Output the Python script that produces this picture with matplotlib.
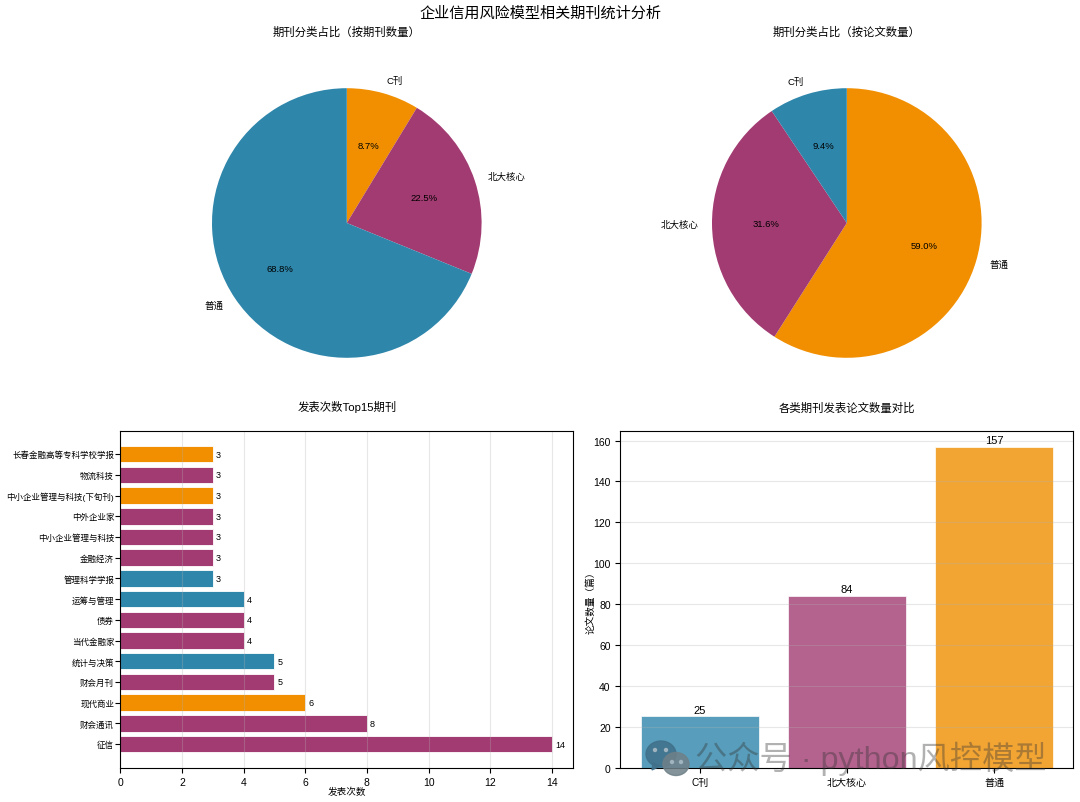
import matplotlib
matplotlib.use('Agg')
import matplotlib.pyplot as plt
from matplotlib.patches import Ellipse, Polygon

plt.rcParams['font.family'] = ['Liberation Sans', 'Noto Sans CJK SC']
plt.rcParams['axes.unicode_minus'] = False

BLUE = '#2E86AB'
PURPLE = '#A23B72'
ORANGE = '#F18F01'

# pies
pie1_labels = ['C刊', '北大核心', '普通']
pie1_values = [12, 31, 95]
pie1_colors = [ORANGE, PURPLE, BLUE]

pie2_labels = ['普通', '北大核心', 'C刊']
pie2_values = [157, 84, 25]
pie2_colors = [ORANGE, PURPLE, BLUE]

# top 15 journals, bottom to top
journals = ['征信', '财会通讯', '现代商业', '财会月刊', '统计与决策', '当代金融家', '债券',
            '运筹与管理', '管理科学学报', '金融经济', '中小企业管理与科技', '中外企业家',
            '中小企业管理与科技(下旬刊)', '物流科技', '长春金融高等专科学校学报']
journal_counts = [14, 8, 6, 5, 5, 4, 4, 4, 3, 3, 3, 3, 3, 3, 3]
journal_colors = [PURPLE, PURPLE, ORANGE, PURPLE, BLUE, PURPLE, PURPLE, BLUE, BLUE,
                  PURPLE, PURPLE, PURPLE, ORANGE, PURPLE, ORANGE]

# papers per category
cat_names = ['C刊', '北大核心', '普通']
cat_papers = [25, 84, 157]
cat_colors = [BLUE, PURPLE, ORANGE]

W, H = 1080, 803


def make_axes(fig, left, top, right, bottom):
    return fig.add_axes([left / W, 1 - bottom / H, (right - left) / W, (bottom - top) / H])


def draw_pie(ax, values, labels, colors, title):
    _, texts, autotexts = ax.pie(values, labels=labels, colors=colors, autopct='%1.1f%%',
                                 startangle=90, counterclock=False)
    for t in texts + autotexts:
        t.set_fontsize(6.8)
    ax.set_title(title, fontsize=8.2, pad=14.5)


fig = plt.figure(figsize=(W / 100, H / 100), dpi=100)
fig.text(0.5, 1 - 14 / H, '企业信用风险模型相关期刊统计分析', fontsize=10.9, ha='center', va='center')

ax1 = make_axes(fig, 120.3, 55.5, 573.3, 392.5)
draw_pie(ax1, pie1_values, pie1_labels, pie1_colors, '期刊分类占比（按期刊数量）')

ax2 = make_axes(fig, 620.3, 55.5, 1073.3, 392.5)
draw_pie(ax2, pie2_values, pie2_labels, pie2_colors, '期刊分类占比（按论文数量）')

ax3 = make_axes(fig, 120.4, 431.6, 573.4, 768.6)
bars = ax3.barh(journals, journal_counts, color=journal_colors, edgecolor='white', linewidth=0.6)
for bar, n in zip(bars, journal_counts):
    ax3.text(n + 0.1, bar.get_y() + bar.get_height() / 2, str(n), va='center', fontsize=6.5)
ax3.set_xlabel('发表次数', fontsize=6.9, labelpad=-1)
ax3.set_title('发表次数Top15期刊', fontsize=8.2, pad=14.5)
ax3.tick_params(axis='y', labelsize=6.1, pad=1)
ax3.tick_params(axis='x', labelsize=7.5)
ax3.grid(axis='x', alpha=0.3)

ax4 = make_axes(fig, 620.4, 431.6, 1073.4, 768.6)
bars = ax4.bar(cat_names, cat_papers, color=cat_colors, alpha=0.8, edgecolor='white', linewidth=0.6)
for bar, n in zip(bars, cat_papers):
    ax4.text(bar.get_x() + bar.get_width() / 2, n + 0.8, str(n), ha='center', va='bottom', fontsize=8)
ax4.set_ylabel('论文数量（篇）', fontsize=6.9, labelpad=-1.5)
ax4.set_title('各类期刊发表论文数量对比', fontsize=8.2, pad=14.5)
ax4.tick_params(axis='both', labelsize=7.5)
ax4.tick_params(axis='x', labelsize=7.2)
ax4.grid(axis='y', alpha=0.3)

# watermark
fig.text(871 / W, 1 - 759 / H, '公众号 · python风控模型', fontsize=23.2, color='#333333',
         alpha=0.38, ha='center', va='center', zorder=6)
for cx, cy, ew, eh, col in [(661, 755, 30, 26, '#40708a'), (676, 765, 26, 23, '#6f8088')]:
    fig.add_artist(Ellipse((cx / W, 1 - cy / H), ew / W, eh / H, transform=fig.transFigure,
                           color=col, alpha=0.85, zorder=5))
fig.add_artist(Polygon([(653 / W, 1 - 764 / H), (652 / W, 1 - 771 / H), (660 / W, 1 - 767 / H)],
                       transform=fig.transFigure, color='#40708a', alpha=0.85, zorder=5))
for ex, ey in [(655, 751), (666, 751), (672, 763), (681, 763)]:
    fig.add_artist(Ellipse((ex / W, 1 - ey / H), 3 / W, 3 / H, transform=fig.transFigure,
                           color='#9fb4be', zorder=6))

fig.savefig('out.png', dpi=100)
